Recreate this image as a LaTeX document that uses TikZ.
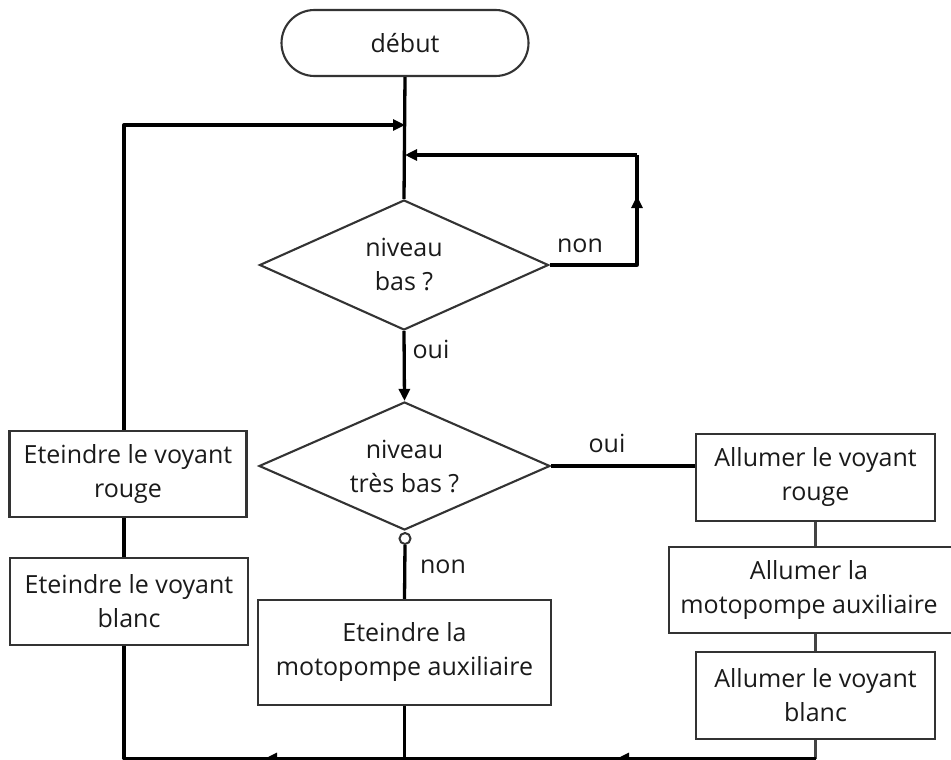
\documentclass[tikz,border=0pt]{standalone}
\usepackage{fontspec}
\setmainfont{Open Sans}
\usetikzlibrary{shapes.geometric,arrows.meta,calc}
\definecolor{boxc}{HTML}{333333}
\definecolor{greyc}{HTML}{444444}
\definecolor{txtc}{HTML}{1A1A1A}
\newcommand\txtf{\fontsize{25}{34}\selectfont}
\begin{document}
\begin{tikzpicture}[x=1pt,y=-1pt,
  box/.style={draw=boxc, line width=2.1pt, align=center, inner sep=0pt, font=\txtf, text=txtc},
  dia/.style={draw=boxc, line width=2.1pt, diamond, aspect=2.2, align=center, inner sep=0pt, font=\txtf, text=txtc},
  conn/.style={line width=3.3pt, black, line join=round},
  conng/.style={line width=3.3pt, greyc},
  arr/.style={-{Triangle[length=12pt,width=11pt]}},
  lbl/.style={font=\txtf, inner sep=0pt, text=txtc}]
\useasboundingbox (0,0) rectangle (951,760);

% nodes
\node[box, rounded corners=33pt, minimum width=247pt, minimum height=66pt] (debut) at (405,43) {début};
\node[dia, minimum width=289pt, minimum height=130pt] (d1) at (404,265) {niveau\\bas ?};
\node[dia, minimum width=291pt, minimum height=128pt] (d2) at (404.5,466) {niveau\\très bas ?};
\node[circle, draw=boxc, line width=2pt, minimum size=11pt, inner sep=0pt] (oc) at (405,538.5) {};
\node[box, minimum width=293pt, minimum height=105pt] (bmid) at (404.5,652.5) {Eteindre la\\motopompe auxiliaire};
\node[box, minimum width=237pt, minimum height=86pt] (bl1) at (128,474) {Eteindre le voyant\\rouge};
\node[box, minimum width=238pt, minimum height=87pt] (bl2) at (129,601.5) {Eteindre le voyant\\blanc};
\node[box, minimum width=239pt, minimum height=87pt] (br1) at (815.5,477.5) {Allumer le voyant\\rouge};
\node[box, minimum width=300pt, minimum height=86pt] (br2) at (819,590) {};
\node[lbl, align=center] (br2t) at (809,590) {Allumer la\\motopompe auxiliaire};
\node[box, minimum width=239pt, minimum height=87pt] (br3) at (815.5,695.5) {Allumer le voyant\\blanc};

% labels
\node[lbl] (lnon1) at (580,246) {non};
\node[lbl] (loui1) at (431,349) {oui};
\node[lbl] (loui2) at (607,443) {oui};
\node[lbl] (lnon2) at (443,567) {non};

% coordinates
\coordinate (j1) at (405,125);
\coordinate (j2) at (405,155);
\coordinate (lc) at (124,125);
\coordinate (rc2) at (637,155);
\coordinate (rc1) at (637,265);
\coordinate (rmid) at (637,196);
\coordinate (bL) at (124,758.5);
\coordinate (bR) at (815.5,758.5);
\coordinate (a1) at (617,758.5);
\coordinate (a2) at (265,758.5);

% connectors
\draw[conn] (debut.south) -- (d1.north);
\draw[conn,arr] (bl1.north -| lc) -- (lc) -- (j1);
\draw[conn] (d1.east) -- (rc1) -- (rc2);
\draw[conn,arr] (rc1) -- (rmid);
\draw[conn,arr] (rc2) -- (j2);
\draw[conn,arr] (d1.south) -- (d2.north);
\draw[conn] (d2.east) -- (d2.east -| br1.west);
\draw[conn] (oc.south) -- (bmid.north);
\draw[conng] (br1.south) -- (br1.south |- br2.north);
\draw[conng] (br2.south -| br1.south) -- (br3.north);
\draw[conng] (br3.south) -- (bR);
\draw[conn] (bR) -- (bL) -- (bl2.south -| bL);
\draw[conn,arr] (bR) -- (a1);
\draw[conn,arr] (bmid.south |- bL) -- (a2);
\draw[conn] (bmid.south) -- (bmid.south |- bL);
\draw[conn] (bl2.north -| bL) -- (bl1.south -| bL);
\end{tikzpicture}
\end{document}
